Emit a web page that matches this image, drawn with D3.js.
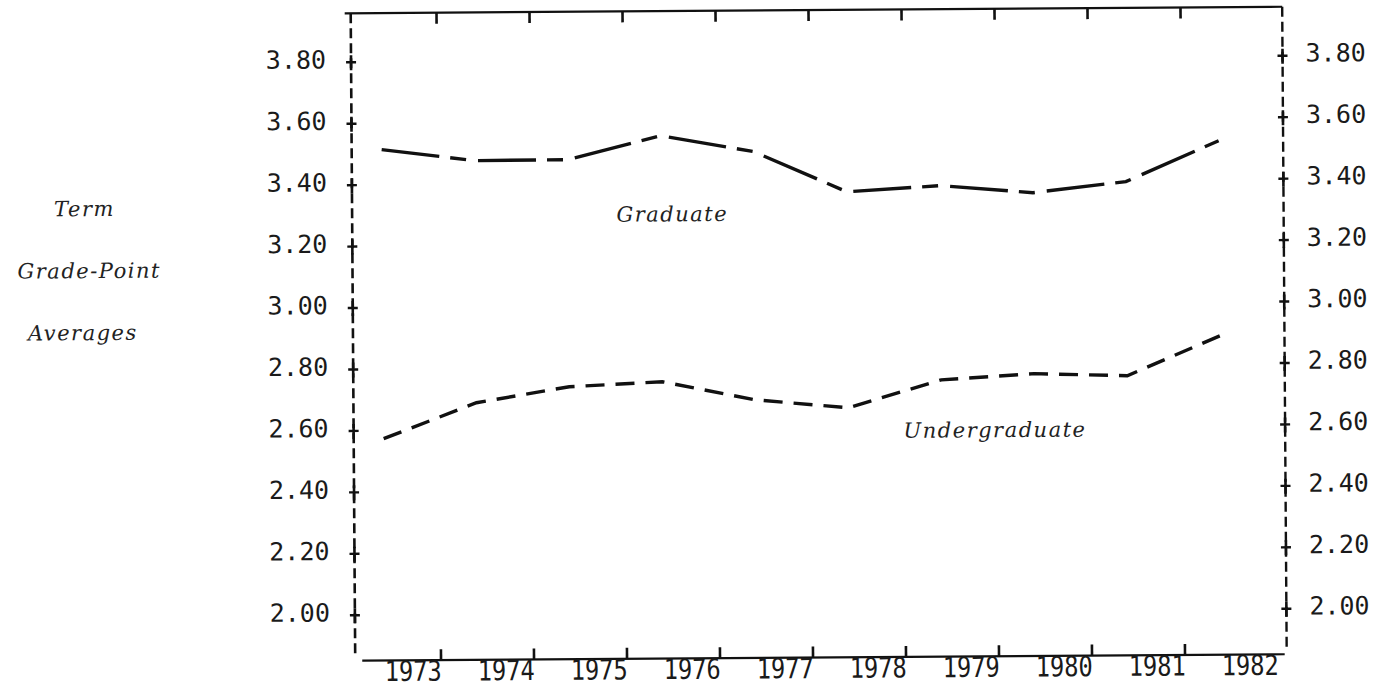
<!DOCTYPE html>
<html>
<head>
<meta charset="utf-8">
<script src="https://cdn.jsdelivr.net/npm/d3@7"></script>
<style>
body { margin: 0; background: #fff; }
.num { font-family: "DejaVu Sans Mono", monospace; font-size: 25px; fill: #1a1a1a; }
.ital { font-family: "DejaVu Serif", serif; font-style: italic; font-size: 21px; letter-spacing: 1.5px; fill: #222; }
</style>
</head>
<body>
<svg id="chart" width="1386" height="688"></svg>
<script>
// term GPA by year
var years = [1973, 1974, 1975, 1976, 1977, 1978, 1979, 1980, 1981, 1982];
var graduate = [3.515, 3.477, 3.478, 3.554, 3.50, 3.367, 3.385, 3.36, 3.394, 3.525];
var undergraduate = [2.574, 2.689, 2.739, 2.753, 2.692, 2.664, 2.753, 2.771, 2.762, 2.89];
var yTicks = [2.00, 2.20, 2.40, 2.60, 2.80, 3.00, 3.20, 3.40, 3.60, 3.80];
var axisTitle = ["Term", "Grade-Point", "Averages"];
var seriesNames = ["Graduate", "Undergraduate"];

var svg = d3.select("#chart");
// the scan is a bit tilted
var g = svg.append("g").attr("transform", "rotate(-0.4,820,340)");

var plotLeft = 353, plotRight = 1284.5, plotTop = 10, plotBottom = 657.5;

var x = d3.scaleLinear().domain([1973, 1982]).range([383, 1220]);
var y = d3.scaleLinear().domain([2.0, 3.8]).range([612, 59]);

// frame
g.append("line").attr("x1", plotLeft - 6).attr("x2", plotRight).attr("y1", plotTop).attr("y2", plotTop)
    .attr("stroke", "#111").attr("stroke-width", 2.2);
g.append("line").attr("x1", plotLeft + 7).attr("x2", plotRight - 2).attr("y1", plotBottom).attr("y2", plotBottom)
    .attr("stroke", "#111").attr("stroke-width", 2.2);
g.append("line").attr("x1", plotLeft).attr("x2", plotLeft).attr("y1", plotTop).attr("y2", plotBottom - 3)
    .attr("stroke", "#111").attr("stroke-width", 2.6).attr("stroke-dasharray", "10 5");
g.append("line").attr("x1", plotRight).attr("x2", plotRight).attr("y1", plotTop).attr("y2", plotBottom - 5)
    .attr("stroke", "#111").attr("stroke-width", 2.4).attr("stroke-dasharray", "10 5");

// year ticks, top and bottom
var tickYears = years.slice(0, years.length - 1);
g.selectAll(".tb").data(tickYears).enter().append("line")
    .attr("x1", d => x(d + 0.6)).attr("x2", d => x(d + 0.6))
    .attr("y1", plotTop).attr("y2", plotTop + 11)
    .attr("stroke", "#111").attr("stroke-width", 2.6);
g.selectAll(".bt").data(tickYears).enter().append("line")
    .attr("x1", d => x(d + 0.6)).attr("x2", d => x(d + 0.6))
    .attr("y1", plotBottom).attr("y2", plotBottom - 11)
    .attr("stroke", "#111").attr("stroke-width", 2.6);

g.selectAll(".year").data(years).enter().append("text")
    .attr("class", "num")
    .attr("text-anchor", "middle")
    .attr("transform", d => "translate(" + x(d + 0.3) + "," + 678 + ") scale(0.95,1.12)")
    .text(d => d);

// y ticks on both sides, drawn as little crosses
[plotLeft, plotRight].forEach(function(ax) {
    g.selectAll(null).data(yTicks).enter().append("line")
        .attr("x1", ax - 5).attr("x2", ax + 5)
        .attr("y1", d => y(d)).attr("y2", d => y(d))
        .attr("stroke", "#111").attr("stroke-width", 2.4);
    g.selectAll(null).data(yTicks).enter().append("line")
        .attr("x1", ax).attr("x2", ax)
        .attr("y1", d => y(d) - 7).attr("y2", d => y(d) + 8)
        .attr("stroke", "#111").attr("stroke-width", 2.6);
});

g.selectAll(".yl").data(yTicks).enter().append("text")
    .attr("class", "num")
    .attr("x", plotLeft - 25).attr("y", d => y(d) + 6)
    .attr("text-anchor", "end")
    .text(d => d.toFixed(2));
g.selectAll(".yr").data(yTicks).enter().append("text")
    .attr("class", "num")
    .attr("x", plotRight + 23).attr("y", d => y(d) + 6)
    .text(d => d.toFixed(2));

// axis title
var titleX = [55, 18, 28];
g.selectAll(".title").data(axisTitle).enter().append("text")
    .attr("class", "ital")
    .attr("x", (d, i) => titleX[i])
    .attr("y", (d, i) => 211 + i * 62)
    .text(d => d);

// series
var line = d3.line().x(d => x(d[0])).y(d => y(d[1]));

g.append("path")
    .datum(years.map((yr, i) => [yr, graduate[i]]))
    .attr("d", line)
    .attr("fill", "none").attr("stroke", "#111").attr("stroke-width", 3.4)
    .attr("stroke-dasharray", "58 11 16 12");

g.append("path")
    .datum(years.map((yr, i) => [yr, undergraduate[i]]))
    .attr("d", line)
    .attr("fill", "none").attr("stroke", "#111").attr("stroke-width", 3.4)
    .attr("stroke-dasharray", "19 11");

g.append("text").attr("class", "ital")
    .attr("x", x(1975.52)).attr("y", y(3.275))
    .text(seriesNames[0]);
g.append("text").attr("class", "ital")
    .attr("x", x(1978.59)).attr("y", y(2.565))
    .text(seriesNames[1]);
</script>
</body>
</html>
